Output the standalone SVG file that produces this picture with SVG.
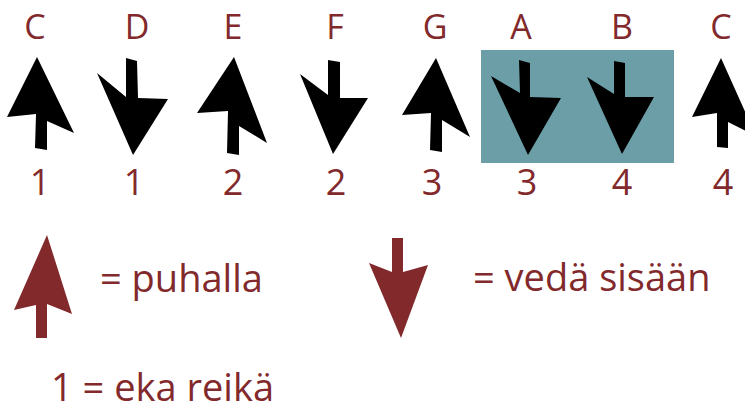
<svg xmlns="http://www.w3.org/2000/svg" width="745" height="411" viewBox="0 0 745 411">
<style>
.lbl{font-family:"Open Sans","Noto Sans","Liberation Sans",sans-serif;fill:#82292c;text-anchor:middle;font-size:34px}
.num{font-family:"Open Sans","Noto Sans","Liberation Sans",sans-serif;fill:#82292c;text-anchor:middle;font-size:36px}
.leg{font-family:"Open Sans","Noto Sans","Liberation Sans",sans-serif;fill:#82292c;font-size:38px}
.blk{fill:#000}
.red{fill:#82292c}
</style>
<rect width="745" height="411" fill="#ffffff"/>
<rect id="highlight" x="481" y="50" width="193" height="113" fill="#6b9ea6"/>
<g id="hole-C1">
<text class="lbl" x="35" y="39">C</text>
<polygon class="blk" points="37,57 74,133 47,121 47,150 35,148 36,114 7,117"/>
<text class="num" x="40" y="195">1</text>
</g>
<g id="hole-D1">
<text class="lbl" x="137" y="39">D</text>
<polygon class="blk" points="126,58 137,61 138,98 168,99 133,155 97,73 126,97"/>
<text class="num" x="134" y="195">1</text>
</g>
<g id="hole-E2">
<text class="lbl" x="233" y="39">E</text>
<polygon class="blk" points="234,57 267,143 239,126 239,155 227,153 228,111 197,113"/>
<text class="num" x="233" y="195">2</text>
</g>
<g id="hole-F2">
<text class="lbl" x="335" y="39">F</text>
<polygon class="blk" points="328,60 340,62 340,98 368,98 333,154 300,74 328,95"/>
<text class="num" x="336" y="195">2</text>
</g>
<g id="hole-G3">
<text class="lbl" x="435" y="39">G</text>
<polygon class="blk" points="436,58 470,137 442,120 442,152 430,150 431,113 402,115"/>
<text class="num" x="432" y="195">3</text>
</g>
<g id="hole-A3">
<text class="lbl" x="521" y="39">A</text>
<polygon class="blk" points="519,60 530,63 530,97 561,98 528,155 491,76 520,93"/>
<text class="num" x="527" y="195">3</text>
</g>
<g id="hole-B4">
<text class="lbl" x="622" y="39">B</text>
<polygon class="blk" points="614,61 625,63 625,97 654,97 622,154 587,77 614,94"/>
<text class="num" x="622" y="195">4</text>
</g>
<g id="hole-C4">
<text class="lbl" x="721" y="39">C</text>
<polygon class="blk" points="721,58 756,136 728,122 728,148 717,147 717,113 692,117"/>
<text class="num" x="723" y="195">4</text>
</g>
<g id="legend-blow">
<polygon class="red" points="47,235 72,314 47,304 47,338 36,338 36,305 14,310"/>
<text class="leg" x="100" y="292">= puhalla</text>
</g>
<g id="legend-draw">
<polygon class="red" points="392,238 403,238 403,272 428,265 401,338 369,263 392,272"/>
<text class="leg" x="473" y="291">= vedä sisään</text>
</g>
<g id="legend-hole">
<text class="leg" x="51" y="401">1 = eka reikä</text>
</g>
</svg>
